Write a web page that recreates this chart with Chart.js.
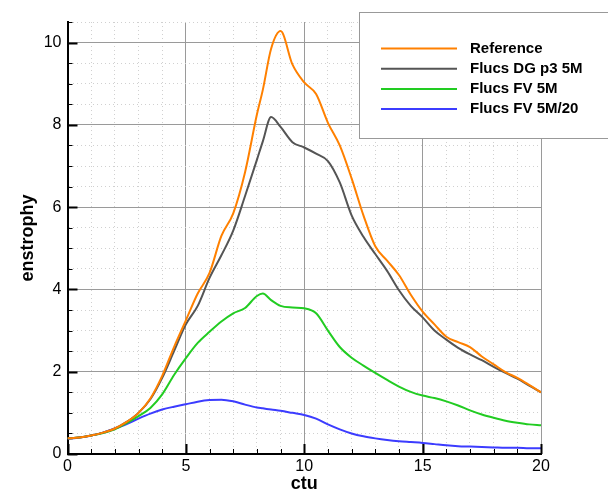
<!DOCTYPE html>
<html>
<head>
<meta charset="utf-8">
<script src="https://cdn.jsdelivr.net/npm/chart.js@4"></script>
<style>
    html, body { margin: 0; padding: 0; background: #fff; }
    #wrap { width: 608px; height: 493px; }
</style>
</head>
<body>
<div id="wrap"><canvas id="chart"></canvas></div>
<script>
// time in ctu, shared by all series (extra sample near the peaks)
const ctu = [0, 0.5, 1, 1.5, 2, 2.5, 3, 3.5, 4, 4.5, 5, 5.5, 6, 6.5, 7, 7.5, 8, 8.25, 8.6, 9, 9.5,
    10, 10.5, 11, 11.5, 12, 12.5, 13, 13.5, 14, 14.5, 15, 15.5, 16, 16.5, 17, 17.5, 18, 18.5, 19, 19.5, 20];

const reference = [0.38, 0.40, 0.45, 0.52, 0.62, 0.78, 1.0, 1.35, 1.9, 2.6, 3.25, 3.9, 4.4, 5.3, 5.85, 6.85, 8.25, 8.85, 9.85, 10.28, 9.47,
    9.03, 8.75, 8.05, 7.5, 6.7, 5.8, 5.05, 4.7, 4.35, 3.87, 3.46, 3.15, 2.85, 2.72, 2.6, 2.37, 2.18, 1.99, 1.85, 1.68, 1.5];

const dgP3 = [0.38, 0.40, 0.45, 0.52, 0.62, 0.78, 1.0, 1.33, 1.85, 2.5, 3.15, 3.6, 4.28, 4.83, 5.43, 6.27, 7.15, 7.6, 8.19, 7.95, 7.58,
    7.45, 7.3, 7.12, 6.6, 5.8, 5.28, 4.86, 4.45, 3.98, 3.6, 3.32, 3.0, 2.78, 2.58, 2.42, 2.28, 2.12, 1.97, 1.83, 1.66, 1.5];

const fv5M = [0.38, 0.40, 0.45, 0.51, 0.6, 0.75, 0.92, 1.12, 1.45, 1.92, 2.33, 2.7, 2.97, 3.22, 3.42, 3.55, 3.84, 3.9, 3.74, 3.6, 3.56,
    3.54, 3.42, 3.0, 2.6, 2.34, 2.15, 1.97, 1.8, 1.64, 1.51, 1.42, 1.36, 1.28, 1.18, 1.06, 0.96, 0.88, 0.81, 0.76, 0.72, 0.7];

const fv5M20 = [0.37, 0.40, 0.45, 0.52, 0.62, 0.73, 0.86, 0.98, 1.08, 1.15, 1.21, 1.27, 1.31, 1.32, 1.28, 1.2, 1.13, 1.11, 1.08, 1.05, 1.0,
    0.95, 0.86, 0.72, 0.6, 0.5, 0.43, 0.38, 0.34, 0.31, 0.29, 0.27, 0.24, 0.21, 0.19, 0.18, 0.17, 0.16, 0.15, 0.15, 0.14, 0.14];

const seriesNames = ['Reference', 'Flucs DG p3 5M', 'Flucs FV 5M', 'Flucs FV 5M/20'];
const seriesColors = ['#ff8000', '#555555', '#22cc22', '#3c3cff'];
const seriesValues = [reference, dgP3, fv5M, fv5M20];

const FONT = '"Liberation Sans", Arial, sans-serif';

function isMajor(scale, value) {
    return scale.axis === 'x' ? value % 5 === 0 : value % 2 === 0;
}

// inward tick marks + legend box
const decorations = {
    id: 'decorations',
    afterDraw(chart) {
        const ctx = chart.ctx;
        const xs = chart.scales.x, ys = chart.scales.y;
        const area = chart.chartArea;
        ctx.save();
        ctx.strokeStyle = '#000';
        xs.ticks.forEach(t => {
            const px = Math.round(xs.getPixelForValue(t.value)) + 0.5;
            const major = isMajor(xs, t.value);
            ctx.lineWidth = major ? 2 : 1;
            ctx.beginPath();
            ctx.moveTo(px, area.bottom);
            ctx.lineTo(px, area.bottom - (major ? 10 : 5));
            ctx.stroke();
        });
        ys.ticks.forEach(t => {
            const py = Math.round(ys.getPixelForValue(t.value)) + 0.5;
            const major = isMajor(ys, t.value);
            ctx.lineWidth = major ? 2 : 1;
            ctx.beginPath();
            ctx.moveTo(area.left, py);
            ctx.lineTo(area.left + (major ? 10 : 5), py);
            ctx.stroke();
        });

        // legend
        ctx.fillStyle = '#fff';
        ctx.fillRect(359, 12, 260, 126);
        ctx.strokeStyle = '#999';
        ctx.lineWidth = 1;
        ctx.strokeRect(359.5, 12.5, 260, 126);
        ctx.font = 'bold 15px ' + FONT;
        ctx.textBaseline = 'middle';
        chart.data.datasets.forEach((ds, i) => {
            const y = 48.5 + i * 20.2;
            ctx.strokeStyle = ds.borderColor;
            ctx.lineWidth = 2;
            ctx.beginPath();
            ctx.moveTo(381, y);
            ctx.lineTo(457, y);
            ctx.stroke();
            ctx.fillStyle = '#000';
            ctx.fillText(ds.label, 470, y);
        });
        ctx.restore();
    }
};

const gridColor = c => (c.tick && isMajor(c.scale, c.tick.value)) ? '#9a9a9a' : '#d0d0d0';
const gridDash = c => (c.tick && !isMajor(c.scale, c.tick.value)) ? [1, 3] : [];

new Chart(document.getElementById('chart'), {
    type: 'line',
    data: {
        datasets: seriesNames.map((name, i) => ({
            label: name,
            data: ctu.map((t, j) => ({ x: t, y: seriesValues[i][j] })),
            borderColor: seriesColors[i],
            borderWidth: 2,
            pointRadius: 0,
            cubicInterpolationMode: 'monotone',
            fill: false
        }))
    },
    options: {
        responsive: true,
        maintainAspectRatio: false,
        animation: false,
        layout: { padding: { top: 22, right: 67, left: 0, bottom: 0 } },
        plugins: {
            legend: { display: false },
            tooltip: { enabled: false }
        },
        scales: {
            x: {
                type: 'linear',
                min: 0,
                max: 20,
                afterFit: s => { s.height = 39; },
                ticks: {
                    stepSize: 1,
                    autoSkip: false,
                    maxRotation: 0,
                    padding: 3,
                    color: '#000',
                    font: { family: FONT, size: 16 },
                    callback: v => (v % 5 === 0 ? v : '')
                },
                grid: { color: gridColor, lineWidth: 1, drawTicks: false },
                border: { color: '#000', width: 2, dash: gridDash },
                title: {
                    display: true,
                    text: 'ctu',
                    color: '#000',
                    font: { family: FONT, size: 18, weight: 'bold' },
                    padding: { top: 0, bottom: -2 }
                }
            },
            y: {
                type: 'linear',
                min: 0,
                max: 10.5,
                afterFit: s => { s.width = 67.5; },
                ticks: {
                    stepSize: 0.5,
                    autoSkip: false,
                    padding: 6,
                    color: '#000',
                    font: { family: FONT, size: 16 },
                    callback: v => (v % 2 === 0 ? v : '')
                },
                grid: { color: gridColor, lineWidth: 1, drawTicks: false },
                border: { color: '#000', width: 2, dash: gridDash },
                title: {
                    display: true,
                    text: 'enstrophy',
                    color: '#000',
                    font: { family: FONT, size: 18, weight: 'bold' },
                    padding: { top: 17, bottom: 0 }
                }
            }
        }
    },
    plugins: [decorations]
});
</script>
</body>
</html>
